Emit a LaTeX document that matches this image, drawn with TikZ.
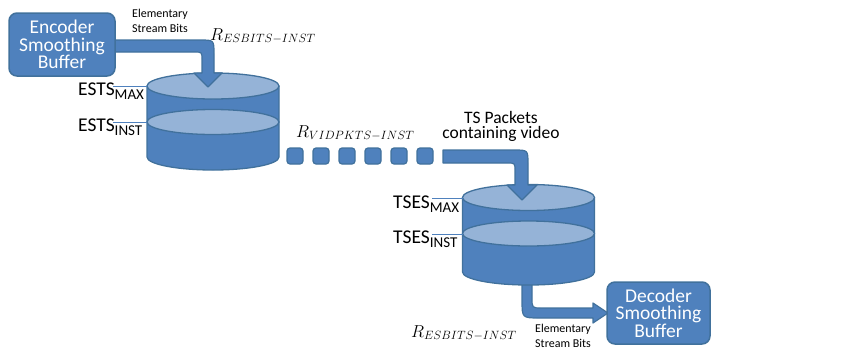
\documentclass[tikz,border=0pt]{standalone}
\usepackage{fontspec}
\setmainfont{Carlito}
\definecolor{mid}{HTML}{4F81BD}
\definecolor{lite}{HTML}{95B3D7}
\definecolor{edge}{HTML}{41719C}
\newcommand{\mycyl}[4]{%
  \filldraw[fill=mid,draw=edge,line width=1.3pt,line join=round]
    ({#1-66},#2) -- ({#1-66},#4) arc[start angle=180,end angle=360,x radius=66pt,y radius=13pt]
    -- ({#1+66},#2) -- cycle;
  \filldraw[fill=lite,draw=edge,line width=1.3pt] (#1,#3) ellipse[x radius=66pt,y radius=12.5pt];
  \filldraw[fill=lite,draw=edge,line width=1.3pt] (#1,#2) ellipse[x radius=66pt,y radius=13pt];
}
\begin{document}
\begin{tikzpicture}[x=1pt,y=-1pt,
  box/.style={rounded corners=8pt,fill=mid,draw=edge,line width=1.5pt,text=white,
    align=center,inner sep=0pt,font=\fontsize{19.5}{17.5}\selectfont},
  flow/.style={fill=mid,draw=edge,line width=1.2pt,line join=round},
  pkt/.style={fill=mid,draw=edge,line width=1.2pt,rounded corners=3pt,minimum size=16pt,inner sep=0pt},
  lvl/.style={draw=mid,line width=0.8pt},
  small/.style={align=center,inner sep=0pt,font=\fontsize{12}{14.5}\selectfont},
  lab/.style={anchor=base west,inner sep=0pt,font=\fontsize{19.5}{20}\selectfont},
  rate/.style={anchor=base west,inner sep=0pt,font=\fontsize{18}{22}\selectfont}]
\useasboundingbox (0,0) rectangle (853,349);

% arrow from TSES buffer to decoder
\filldraw[flow] (522,268) -- (522,300) .. controls (522,318) .. (540,318) -- (593,318) -- (593,323)
  -- (608,313) -- (593,303) -- (593,308) -- (542,308) .. controls (532,308) .. (532,298) -- (532,268) -- cycle;

% buffers
\mycyl{213}{86}{122}{157}
\mycyl{528.5}{197.5}{233.5}{272}

% arrow from encoder to ESTS buffer
\filldraw[flow] (110,40) -- (200,40) .. controls (214,40) .. (214,54) -- (214,73) -- (222,73)
  -- (208,87) -- (194,73) -- (202,73) -- (202,60) .. controls (202,52) .. (194,52) -- (110,52) -- cycle;

% arrow from packets to TSES buffer
\filldraw[flow] (443,150) -- (514,150) .. controls (528,150) .. (528,164) -- (528,185) -- (537,185)
  -- (522,200) -- (507,185) -- (515,185) -- (515,171) .. controls (515,163) .. (507,163) -- (443,163) -- cycle;

% packets
\foreach \i in {0,...,5} {
  \node[pkt] (p\i) at ({295+26*\i},156) {};
}

% boxes
\node[box,minimum width=106pt,minimum height=63pt] (enc) at (62,44.5) {Encoder\\Smoothing\\Buffer};
\node[box,minimum width=103pt,minimum height=62pt] (dec) at (658.5,313) {Decoder\\Smoothing\\Buffer};

% level lines and labels
\draw[lvl] (113,86) -- (147,86);
\draw[lvl] (113,122) -- (147,122);
\draw[lvl] (432,198) -- (462.5,198);
\draw[lvl] (432,234) -- (462.5,234);
\node[lab] (estsmax) at (78,95) {ESTS\raisebox{-4pt}{\fontsize{15}{15}\selectfont MAX}};
\node[lab] (estsinst) at (78,131) {ESTS\raisebox{-4pt}{\fontsize{15}{15}\selectfont INST}};
\node[lab] (tsesmax) at (393,208) {TSES\raisebox{-4pt}{\fontsize{15}{15}\selectfont MAX}};
\node[lab] (tsesinst) at (393,243) {TSES\raisebox{-4pt}{\fontsize{15}{15}\selectfont INST}};

% texts
\node[small] (esb1) at (160,21) {Elementary\\Stream Bits};
\node[small] (esb2) at (563,336) {Elementary\\Stream Bits};
\node[align=center,inner sep=0pt,font=\fontsize{17.5}{15.5}\selectfont] (tsp) at (501,126.5) {TS Packets\\containing video};
\node[rate] (r1) at (210,40) {$R_{ESBITS-INST}$};
\node[rate] (r2) at (296,137) {$R_{VIDPKTS-INST}$};
\node[rate] (r3) at (411,337) {$R_{ESBITS-INST}$};
\end{tikzpicture}
\end{document}
